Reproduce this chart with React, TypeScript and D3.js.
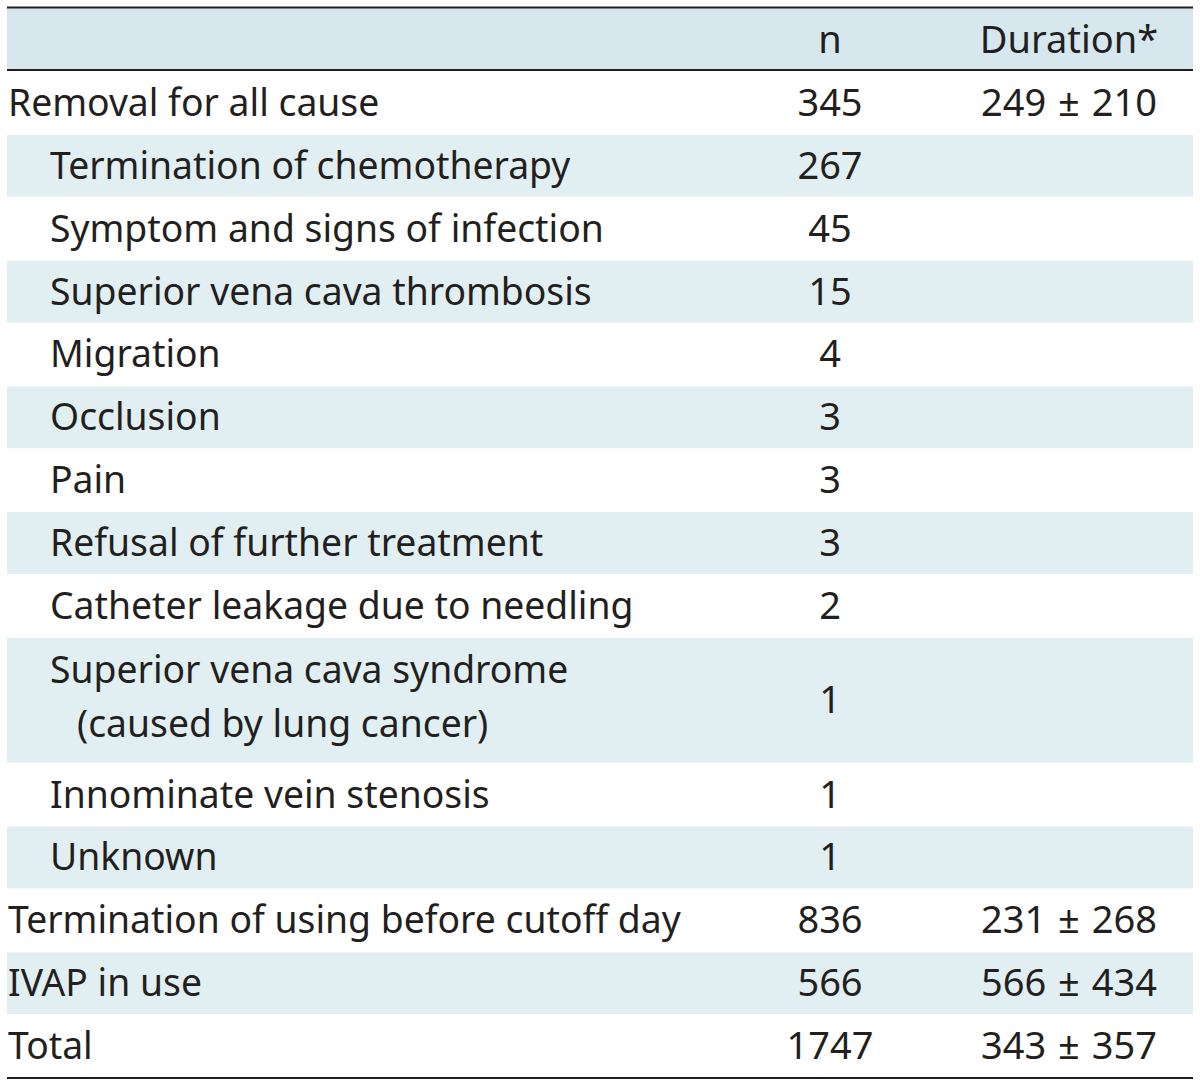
import React from "react";
import * as d3 from "d3";

const headers = ["", "n", "Duration*"];
const labels: string[][] = [
  ["Removal for all cause"],
  ["Termination of chemotherapy"],
  ["Symptom and signs of infection"],
  ["Superior vena cava thrombosis"],
  ["Migration"],
  ["Occlusion"],
  ["Pain"],
  ["Refusal of further treatment"],
  ["Catheter leakage due to needling"],
  ["Superior vena cava syndrome", "(caused by lung cancer)"],
  ["Innominate vein stenosis"],
  ["Unknown"],
  ["Termination of using before cutoff day"],
  ["IVAP in use"],
  ["Total"],
];
const indentLevel = [0, 1, 1, 1, 1, 1, 1, 1, 1, 1, 1, 1, 0, 0, 0];
const nValues = ["345", "267", "45", "15", "4", "3", "3", "3", "2", "1", "1", "1", "836", "566", "1747"];
const durations = ["249 ± 210", "", "", "", "", "", "", "", "", "", "", "", "231 ± 268", "566 ± 434", "343 ± 357"];

const W = 1200;
const H = 1087;
const FONT = "'Noto Sans', sans-serif";
const FS = 38;
const TEXT = "#231f20";
const HEADER_BG = "#d6e8ed";
const ROW_BG = "#e1eff2";
const SX = 0.982;

export default function App() {
  const units = labels.map((l) => l.length);
  const cum = [0];
  units.forEach((u) => cum.push(cum[cum.length - 1] + u));
  const y = d3.scaleLinear().domain([0, cum[cum.length - 1]]).range([71, 1077]);
  const x = d3.scaleOrdinal<string, number>().domain(["label", "n", "dur"]).range([8, 830, 1069]);
  const left = 7;
  const right = 1193;
  const indentX = (lvl: number, line: number) => x("label") + lvl * 42 + (line > 0 ? 27 : 0);

  return (
    <svg width={W} height={H} style={{ position: "absolute", left: 0, top: 0 }}>
      <rect x={0} y={0} width={W} height={H} fill="#ffffff" />
      <rect x={left} y={8} width={right - left} height={61} fill={HEADER_BG} />
      {labels.map((l, i) =>
        i % 2 === 1 ? (
          <rect key={"bg" + i} x={left} y={y(cum[i]) + 1} width={right - left} height={y(cum[i + 1]) - y(cum[i]) - 1} fill={ROW_BG} />
        ) : null
      )}
      <line x1={left} x2={right} y1={7.5} y2={7.5} stroke={TEXT} strokeWidth={2} />
      <line x1={left} x2={right} y1={70} y2={70} stroke={TEXT} strokeWidth={2} />
      <line x1={left} x2={right} y1={1078} y2={1078} stroke={TEXT} strokeWidth={2} />
      <g fontFamily={FONT} fontSize={FS} fill={TEXT}>
        <text x={x("n")} y={53} textAnchor="middle">{headers[1]}</text>
        <text x={x("dur")} y={53} textAnchor="middle">{headers[2]}</text>
        {labels.map((l, i) => {
          const top = y(cum[i]);
          const bot = y(cum[i + 1]);
          const mid = (top + bot) / 2;
          const nLines = l.length;
          const lineGap = 54;
          return (
            <g key={"r" + i}>
              {l.map((t, j) => {
                const tx = indentX(indentLevel[i], j);
                const ty = mid + 13.5 + (j - (nLines - 1) / 2) * lineGap - (nLines > 1 ? 3.5 : 0);
                return (
                  <text key={j} transform={`translate(${tx},${ty}) scale(${SX},1)`}>
                    {t}
                  </text>
                );
              })}
              <text x={x("n")} y={mid + 13.5} textAnchor="middle">{nValues[i]}</text>
              {durations[i] ? (
                <text x={x("dur")} y={mid + 13.5} textAnchor="middle" wordSpacing={2}>{durations[i]}</text>
              ) : null}
            </g>
          );
        })}
      </g>
    </svg>
  );
}
